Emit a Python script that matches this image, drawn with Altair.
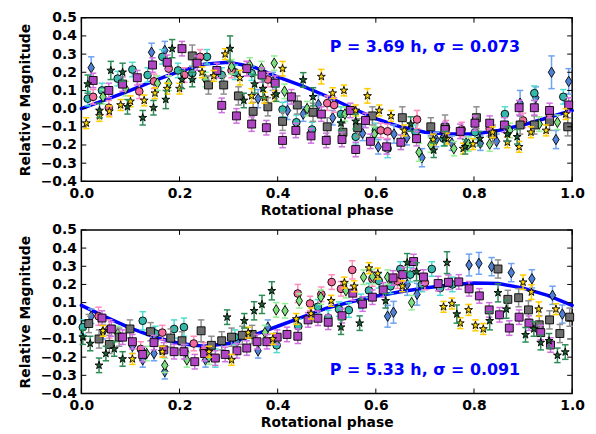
import altair as alt
import pandas as pd

# ---------------- data ----------------
SERIES = ["blue", "teal", "pink", "lgreen", "gray", "purple", "gold", "dgreen"]

# (phase, relative magnitude, error) -- top panel
T_BLUE = [(0.02,0.225,0.06),(0.143,0.31,0.05),(0.17,0.32,0.05),(0.36,0.055,0.05),(0.39,0.15,0.05),(0.42,-0.01,0.05),
          (0.452,-0.03,0.04),(0.483,0.023,0.05),(0.512,-0.05,0.04),(0.573,-0.136,0.04),(0.605,-0.21,0.04),(0.637,-0.14,0.05),
          (0.663,-0.16,0.04),(0.694,-0.27,0.05),(0.723,-0.17,0.04),(0.755,-0.19,0.04),(0.784,-0.19,0.04),(0.813,-0.19,0.04),
          (0.846,-0.18,0.04),(0.894,0.03,0.07),(0.926,0.06,0.06),(0.958,0.20,0.09),(0.967,-0.17,0.05),(0.993,0.15,0.07)]
T_TEAL = [(0.013,0.055,0.04),(0.042,0.10,0.04),(0.074,0.165,0.04),(0.104,0.215,0.04),(0.135,0.185,0.04),(0.165,0.285,0.04),
          (0.197,0.21,0.04),(0.226,0.195,0.04),(0.256,0.285,0.04),(0.286,0.185,0.04),(0.313,0.20,0.04),(0.347,0.195,0.04),
          (0.41,-0.005,0.04),(0.438,-0.075,0.04),(0.47,-0.115,0.04),(0.529,-0.03,0.04),(0.559,-0.155,0.04),(0.60,-0.12,0.04),
          (0.624,-0.22,0.05),(0.681,-0.13,0.04),(0.738,-0.165,0.04),(0.802,-0.13,0.04),(0.863,-0.03,0.04),(0.923,0.085,0.04),
          (0.982,0.065,0.04)]
T_PINK = [(0.024,0.065,0.04),(0.056,0.005,0.04),(0.118,0.095,0.04),(0.148,0.15,0.04),(0.178,0.22,0.04),(0.21,0.185,0.04),
          (0.242,0.285,0.04),(0.306,0.21,0.04),(0.337,0.22,0.04),(0.38,0.16,0.04),(0.501,0.03,0.04),(0.515,0.02,0.04),
          (0.61,-0.12,0.04),(0.624,-0.125,0.04),(0.684,-0.06,0.05),(0.743,-0.105,0.04),(0.775,-0.115,0.04),(0.832,-0.11,0.04),
          (0.90,-0.065,0.04),(0.954,-0.03,0.04)]
T_LGREEN = [(0.044,0.065,0.04),(0.09,0.11,0.04),(0.155,0.14,0.04),(0.178,0.14,0.04),(0.253,0.16,0.04),(0.306,0.23,0.04),
            (0.343,0.24,0.04),(0.367,0.22,0.04),(0.393,0.25,0.04),(0.414,0.095,0.04),(0.46,0.0,0.04),(0.537,-0.03,0.04),
            (0.597,-0.14,0.04),(0.651,-0.185,0.04),(0.688,-0.24,0.05),(0.712,-0.20,0.04),(0.759,-0.22,0.04),(0.789,-0.195,0.04),
            (0.832,-0.195,0.04),(0.873,-0.12,0.04),(0.933,-0.085,0.04),(0.97,-0.075,0.04)]
T_GRAY = [(0.226,0.29,0.06),(0.259,0.13,0.05),(0.29,0.13,0.05),(0.32,0.07,0.05),(0.35,-0.015,0.05),(0.38,0.01,0.05),
          (0.41,-0.07,0.05),(0.44,0.02,0.05),(0.472,-0.02,0.05),(0.501,-0.10,0.05),(0.533,-0.13,0.05),(0.563,-0.105,0.05),
          (0.593,-0.04,0.05),(0.654,-0.05,0.06),(0.712,-0.10,0.05),(0.741,-0.105,0.07),(0.805,-0.05,0.06),(0.838,-0.14,0.05),
          (0.894,-0.09,0.05),(0.923,-0.09,0.05),(0.954,-0.07,0.05),(0.991,-0.10,0.05)]
T_PURPLE = [(0.024,0.155,0.04),(0.056,0.10,0.04),(0.084,0.135,0.04),(0.114,0.17,0.04),(0.145,0.24,0.04),(0.175,0.255,0.04),
            (0.205,0.33,0.04),(0.236,0.25,0.04),(0.276,0.21,0.04),(0.286,0.018,0.04),(0.316,-0.04,0.04),(0.337,0.22,0.04),
            (0.347,-0.085,0.04),(0.368,0.185,0.04),(0.377,-0.105,0.04),(0.395,0.14,0.04),(0.41,-0.175,0.04),(0.428,0.065,0.04),
            (0.437,-0.12,0.04),(0.468,-0.15,0.04),(0.489,-0.03,0.04),(0.499,-0.175,0.04),(0.531,-0.17,0.04),(0.548,-0.01,0.04),
            (0.559,-0.225,0.04),(0.579,-0.065,0.04),(0.589,-0.18,0.04),(0.622,-0.21,0.04),(0.651,-0.185,0.04),(0.683,-0.165,0.04),
            (0.741,-0.115,0.04),(0.772,-0.125,0.04),(0.802,-0.08,0.04),(0.832,-0.08,0.04),(0.862,-0.09,0.04),(0.892,0.005,0.04),
            (0.923,0.005,0.04),(0.954,-0.01,0.04),(0.993,0.02,0.04)]
T_GOLD = [(0.01,-0.08,0.03),(0.037,-0.04,0.03),(0.057,-0.015,0.03),(0.08,0.02,0.03),(0.10,0.04,0.03),(0.128,0.045,0.03),
          (0.15,0.085,0.03),(0.175,0.11,0.03),(0.20,0.11,0.03),(0.246,0.20,0.03),(0.27,0.18,0.03),(0.293,0.30,0.03),
          (0.323,0.17,0.04),(0.347,0.07,0.04),(0.373,0.06,0.03),(0.394,0.07,0.03),(0.41,0.22,0.04),(0.489,0.176,0.04),
          (0.512,0.085,0.03),(0.535,0.10,0.03),(0.559,-0.01,0.03),(0.583,0.07,0.04),(0.607,-0.01,0.03),(0.631,-0.04,0.03),
          (0.658,-0.12,0.03),(0.717,-0.17,0.03),(0.745,-0.165,0.03),(0.778,-0.22,0.03),(0.798,-0.195,0.03),(0.838,-0.13,0.03),
          (0.868,-0.185,0.03),(0.892,-0.21,0.03),(0.916,-0.13,0.03),(0.947,-0.12,0.03),(0.987,-0.03,0.03)]
T_DGREEN = [(0.013,0.135,0.05),(0.037,-0.01,0.04),(0.06,0.21,0.05),(0.084,0.20,0.05),(0.094,0.01,0.04),(0.125,-0.05,0.04),
            (0.147,0.005,0.04),(0.172,0.05,0.05),(0.185,0.33,0.05),(0.205,0.16,0.05),(0.226,0.16,0.04),(0.303,0.33,0.07),
            (0.331,0.045,0.04),(0.353,0.135,0.05),(0.37,0.11,0.05),(0.397,0.08,0.04),(0.452,0.158,0.04),(0.472,0.065,0.05),
            (0.529,-0.08,0.04),(0.559,-0.07,0.04),(0.671,-0.085,0.04),(0.718,-0.229,0.04),(0.74,-0.165,0.04),(0.782,-0.21,0.04),
            (0.812,-0.165,0.04),(0.868,-0.14,0.04),(0.888,-0.155,0.04)]

# bottom panel
B_BLUE = [(0.02,0.025,0.04),(0.044,-0.06,0.04),(0.104,-0.14,0.04),(0.125,-0.215,0.04),(0.148,-0.18,0.04),(0.17,-0.28,0.04),
          (0.212,-0.17,0.04),(0.253,-0.215,0.04),(0.317,-0.115,0.04),(0.36,-0.165,0.04),(0.38,-0.035,0.04),(0.624,0.025,0.06),
          (0.636,0.047,0.06),(0.664,0.20,0.06),(0.684,0.146,0.06),(0.79,0.307,0.06),(0.81,0.316,0.06),(0.836,0.298,0.05),
          (0.876,0.265,0.05),(0.918,0.231,0.05),(0.96,0.14,0.05),(0.98,0.037,0.05)]
B_TEAL = [(0.003,-0.035,0.04),(0.125,0.0,0.05),(0.151,-0.07,0.04),(0.189,-0.045,0.05),(0.209,-0.035,0.05),(0.273,-0.205,0.05),
          (0.313,-0.09,0.04),(0.398,-0.135,0.04),(0.442,-0.03,0.04),(0.482,0.077,0.04),(0.503,0.017,0.04),(0.525,0.064,0.04),
          (0.545,0.059,0.04),(0.57,0.107,0.04),(0.586,0.167,0.04),(0.606,0.22,0.04),(0.63,0.19,0.04),(0.65,0.285,0.04),
          (0.67,0.254,0.04),(0.694,0.2,0.04),(0.714,0.285,0.04),(0.731,0.18,0.04),(0.756,0.2,0.04)]
B_PINK = [(0.035,0.025,0.05),(0.057,-0.045,0.05),(0.121,-0.155,0.04),(0.165,-0.065,0.04),(0.229,-0.125,0.04),(0.249,-0.16,0.04),
          (0.441,0.15,0.05),(0.466,0.095,0.04),(0.489,0.146,0.04),(0.51,0.213,0.04),(0.529,0.176,0.04),(0.552,0.28,0.05),
          (0.593,0.23,0.04),(0.644,0.218,0.04),(0.70,0.21,0.04)]
B_LGREEN = [(0.074,-0.07,0.04),(0.133,-0.18,0.04),(0.17,-0.245,0.04),(0.215,-0.215,0.04),(0.26,-0.2,0.04),(0.374,-0.065,0.04),
            (0.397,0.06,0.04),(0.415,0.055,0.04),(0.444,0.11,0.04),(0.488,0.13,0.04),(0.539,0.166,0.04),(0.575,0.24,0.04),
            (0.593,0.243,0.04),(0.624,0.24,0.04),(0.673,0.10,0.04)]
B_GRAY = [(0.015,-0.015,0.05),(0.036,-0.10,0.05),(0.057,-0.13,0.05),(0.077,-0.09,0.05),(0.099,-0.045,0.05),(0.141,-0.06,0.05),
          (0.182,-0.095,0.05),(0.205,-0.11,0.05),(0.244,-0.055,0.06),(0.265,-0.135,0.05),(0.286,-0.11,0.05),(0.306,-0.09,0.05),
          (0.328,-0.08,0.05),(0.348,-0.075,0.05),(0.849,0.285,0.05),(0.869,0.118,0.05),(0.891,0.127,0.05),(0.911,0.06,0.05),
          (0.933,-0.022,0.05),(0.954,0.005,0.05),(0.975,-0.07,0.05),(0.995,0.02,0.05)]
B_PURPLE = [(0.042,0.015,0.04),(0.061,-0.045,0.04),(0.084,-0.09,0.04),(0.104,-0.115,0.04),(0.125,-0.185,0.04),(0.148,-0.12,0.04),
            (0.168,-0.16,0.04),(0.189,-0.17,0.04),(0.209,-0.17,0.04),(0.231,-0.225,0.04),(0.251,-0.18,0.04),(0.273,-0.205,0.04),
            (0.293,-0.185,0.04),(0.317,-0.165,0.04),(0.337,-0.15,0.04),(0.358,-0.115,0.04),(0.378,-0.115,0.04),(0.399,-0.09,0.04),
            (0.419,-0.075,0.04),(0.441,-0.085,0.04),(0.462,0.005,0.04),(0.482,0.014,0.04),(0.503,-0.008,0.04),(0.531,0.028,0.04),
            (0.553,0.152,0.04),(0.573,0.092,0.04),(0.593,0.13,0.04),(0.615,0.17,0.04),(0.635,0.236,0.04),(0.655,0.254,0.04),
            (0.677,0.326,0.04),(0.697,0.241,0.04),(0.727,0.205,0.04),(0.748,0.212,0.04),(0.769,0.214,0.04),(0.79,0.176,0.04),
            (0.811,0.137,0.04),(0.831,0.06,0.04),(0.852,0.033,0.04),(0.872,-0.04,0.04),(0.892,0.02,0.04),(0.912,-0.013,0.04),
            (0.936,-0.065,0.04),(0.956,-0.133,0.04)]
B_GOLD = [(0.044,-0.055,0.03),(0.104,-0.21,0.03),(0.165,-0.17,0.03),(0.26,-0.17,0.03),(0.306,-0.215,0.03),(0.34,-0.065,0.03),
          (0.39,-0.10,0.03),(0.438,0.01,0.03),(0.468,0.04,0.03),(0.509,0.11,0.03),(0.536,0.21,0.03),(0.556,0.19,0.03),
          (0.586,0.29,0.03),(0.604,0.26,0.03),(0.654,0.19,0.03),(0.738,0.077,0.03),(0.755,0.095,0.03),(0.772,-0.013,0.03),
          (0.789,0.06,0.03),(0.803,-0.025,0.03),(0.819,-0.045,0.03),(0.90,0.212,0.04),(0.917,0.158,0.04),(0.932,0.064,0.04),
          (0.967,0.064,0.03)]
B_DGREEN = [(0.003,-0.09,0.04),(0.018,-0.125,0.04),(0.036,-0.245,0.04),(0.05,-0.18,0.04),(0.067,-0.155,0.04),(0.084,-0.21,0.04),
            (0.297,0.02,0.04),(0.332,0.0,0.04),(0.352,0.055,0.05),(0.368,0.09,0.05),(0.388,0.165,0.05),(0.529,-0.035,0.04),
            (0.567,-0.013,0.04),(0.62,0.11,0.04),(0.664,0.32,0.05),(0.683,0.27,0.05),(0.745,0.32,0.06),(0.765,0.037,0.05),
            (0.832,0.0,0.05),(0.849,0.154,0.05),(0.866,0.064,0.05),(0.905,-0.077,0.04),(0.922,-0.045,0.04),(0.936,-0.12,0.04),
            (0.953,-0.11,0.04),(0.97,-0.19,0.04),(0.986,-0.172,0.04)]

# fitted curves (read at phase steps of 0.05)
FIT_PHASE = [0.0,0.05,0.10,0.15,0.20,0.25,0.30,0.35,0.40,0.45,0.50,0.55,0.60,0.65,0.70,0.75,0.80,0.85,0.90,0.95,1.0]
T_FIT = [0.0,0.05,0.10,0.155,0.205,0.245,0.255,0.23,0.175,0.125,0.068,0.005,-0.055,-0.10,-0.13,-0.14,-0.14,-0.12,-0.09,-0.05,-0.01]
B_FIT = [0.085,0.02,-0.04,-0.09,-0.125,-0.14,-0.125,-0.08,-0.03,0.02,0.07,0.105,0.135,0.16,0.18,0.197,0.208,0.205,0.18,0.14,0.085]

T_LABEL = "P = 3.69 h, \u03c3 = 0.073"
B_LABEL = "P = 5.33 h, \u03c3 = 0.091"
LABEL_X = [0.70, 0.70]
LABEL_Y = [0.34, -0.27]

X_TICKS = [0.0, 0.2, 0.4, 0.6, 0.8, 1.0]
Y_TICKS = [-0.4, -0.3, -0.2, -0.1, 0.0, 0.1, 0.2, 0.3, 0.4, 0.5]

# ---------------- styles ----------------
THIN_DIAMOND = "M0,-1L0.62,0L0,1L-0.62,0Z"
STAR = ("M0,-1L0.2245,-0.309L0.951,-0.309L0.363,0.118L0.588,0.809L0,0.382"
        "L-0.588,0.809L-0.363,0.118L-0.951,-0.309L-0.2245,-0.309Z")
FILL = {"blue": "#4f80d8", "teal": "#35b8ac", "pink": "#f26a9c", "lgreen": "#7ee07e",
        "gray": "#6e6e6e", "purple": "#b045c4", "gold": "#ffd700", "dgreen": "#1d5e32"}
ERRC = {"blue": "#6fa2f0", "teal": "#4fdcd0", "pink": "#ff8cbd", "lgreen": "#95ee95",
        "gray": "#8e8e8e", "purple": "#cf70e0", "gold": "#ffcc00", "dgreen": "#2e8b57"}
SHAPE = {"blue": THIN_DIAMOND, "teal": "circle", "pink": "circle", "lgreen": THIN_DIAMOND,
         "gray": "square", "purple": "square", "gold": STAR, "dgreen": STAR}
SIZE = {"blue": 110, "teal": 60, "pink": 60, "lgreen": 110, "gray": 64, "purple": 64, "gold": 70, "dgreen": 70}

W, H = 495, 165
FONT = "DejaVu Sans"


def frame(rows):
    df = pd.DataFrame(rows, columns=["phase", "mag", "err"])
    df["lo"] = df["mag"] - df["err"]
    df["hi"] = df["mag"] + df["err"]
    return df


def panel(series_rows, fit_vals, label, lx, ly):
    xs = alt.Scale(domain=[0, 1], nice=False, zero=False, padding=0)
    ys = alt.Scale(domain=[-0.4, 0.5], nice=False, zero=False, padding=0)
    xax = alt.Axis(values=X_TICKS, format=".1f", title="Rotational phase", grid=False, domain=False,
                   ticks=False, labelPadding=5, titlePadding=3, labelFlush=False)
    yax = alt.Axis(values=Y_TICKS, format=".1f", title="Relative Magnitude", grid=False, domain=False,
                   ticks=False, labelPadding=5, titlePadding=8, labelFlush=False)

    def X(f):
        return alt.X(f, type="quantitative", scale=xs, axis=xax)

    def Y(f):
        return alt.Y(f, type="quantitative", scale=ys, axis=yax)

    layers = []
    fit_df = pd.DataFrame({"phase": FIT_PHASE, "mag": fit_vals})
    layers.append(alt.Chart(fit_df).mark_line(color="#0000ff", strokeWidth=3.5, strokeCap="round")
                  .encode(x=X("phase"), y=Y("mag")))
    for s in SERIES:
        df = frame(series_rows[s])
        base = alt.Chart(df)
        layers.append(base.mark_rule(color=ERRC[s], strokeWidth=1.5).encode(x=X("phase"), y=Y("lo"), y2="hi"))
        for f in ("lo", "hi"):
            layers.append(base.mark_point(shape="stroke", size=42, color=ERRC[s], strokeWidth=1.5, opacity=1)
                          .encode(x=X("phase"), y=Y(f)))
        layers.append(base.mark_point(shape=SHAPE[s], filled=True, fill=FILL[s], stroke="black",
                                      strokeWidth=0.9, size=SIZE[s], opacity=1)
                      .encode(x=X("phase"), y=Y("mag")))
    xt = pd.DataFrame({"t": X_TICKS})
    yt = pd.DataFrame({"t": Y_TICKS})
    tk = dict(color="black", strokeWidth=1)
    layers.append(alt.Chart(xt).mark_rule(**tk).encode(x=X("t"), y=alt.value(H), y2=alt.value(H - 5)))
    layers.append(alt.Chart(xt).mark_rule(**tk).encode(x=X("t"), y=alt.value(0), y2=alt.value(5)))
    layers.append(alt.Chart(yt).mark_rule(**tk).encode(y=Y("t"), x=alt.value(0), x2=alt.value(5)))
    layers.append(alt.Chart(yt).mark_rule(**tk).encode(y=Y("t"), x=alt.value(W), x2=alt.value(W - 5)))
    txt = pd.DataFrame({"x": [lx], "y": [ly], "label": [label]})
    layers.append(alt.Chart(txt).mark_text(font=FONT, fontSize=16, fontWeight="bold", color="#0000ff")
                  .encode(x=X("x"), y=Y("y"), text="label:N"))
    return alt.layer(*layers).properties(width=W, height=H)


top = panel({"blue": T_BLUE, "teal": T_TEAL, "pink": T_PINK, "lgreen": T_LGREEN, "gray": T_GRAY,
             "purple": T_PURPLE, "gold": T_GOLD, "dgreen": T_DGREEN}, T_FIT, T_LABEL, LABEL_X[0], LABEL_Y[0])
bottom = panel({"blue": B_BLUE, "teal": B_TEAL, "pink": B_PINK, "lgreen": B_LGREEN, "gray": B_GRAY,
                "purple": B_PURPLE, "gold": B_GOLD, "dgreen": B_DGREEN}, B_FIT, B_LABEL, LABEL_X[1], LABEL_Y[1])

chart = (alt.vconcat(top, bottom, spacing=4)
         .properties(padding={"left": 9, "top": 0, "right": 2, "bottom": 0})
         .configure_view(stroke="black", strokeWidth=1.5)
         .configure_axis(labelFont=FONT, labelFontSize=14, labelFontWeight="bold", labelColor="black",
                         titleFont=FONT, titleFontSize=14, titleFontWeight="bold", titleColor="black"))

chart.save("out.html", embed_options={"renderer": "svg", "actions": False})
